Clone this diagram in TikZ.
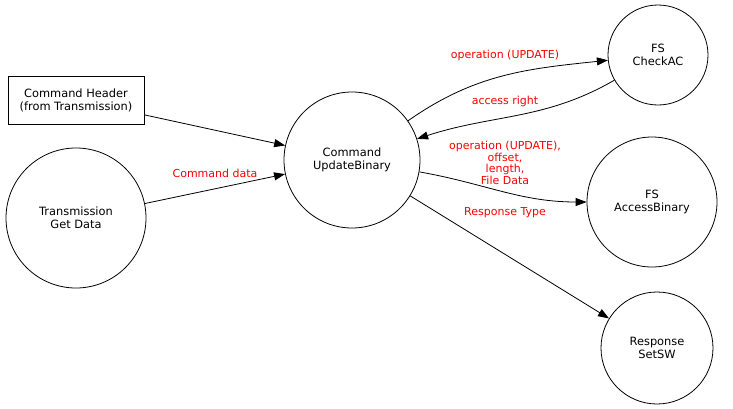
\documentclass[tikz,border=0pt]{standalone}
\usepackage{fontspec}
\setmainfont{DejaVu Sans}
\usetikzlibrary{arrows.meta}
\begin{document}
\begin{tikzpicture}[x=1pt,y=-1pt,
  font=\fontsize{11.4}{13}\selectfont,
  proc/.style={draw,circle,line width=0.8pt,inner sep=0pt,align=center},
  ext/.style={draw,rectangle,line width=0.8pt,inner sep=0pt,align=center,minimum width=136pt,minimum height=48pt},
  flow/.style={draw,line width=0.8pt,-{Triangle[length=11pt,width=8pt]}},
  lbl/.style={text=red,align=center,font=\fontsize{11}{11.7}\selectfont}]
\useasboundingbox (0,0) rectangle (733,408);
\node[ext] (hdr) at (76,100) {Command Header\\(from Transmission)};
\node[proc,minimum size=140pt] (tgd) at (76,218) {Transmission\\Get Data};
\node[proc,minimum size=136pt] (cmd) at (352,160) {Command\\UpdateBinary};
\node[proc,minimum size=100pt] (chk) at (658,55) {FS\\CheckAC};
\node[proc,minimum size=130pt] (acc) at (652,202) {FS\\AccessBinary};
\node[proc,minimum size=112pt] (ssw) at (657,348) {Response\\SetSW};
\draw[flow] (hdr) -- (cmd);
\draw[flow] (tgd) -- (cmd);
\draw[flow] (cmd) to[out=35,in=186] (chk);
\draw[flow] (chk) to[out=210,in=18] (cmd);
\draw[flow] (cmd) to[out=-10,in=180] (acc);
\draw[flow] (cmd) -- (ssw);
\node[lbl] (l1) at (215,173) {Command data};
\node[lbl] (l2) at (505,55) {operation (UPDATE)};
\node[lbl] (l3) at (505,101) {access right};
\node[lbl] (l4) at (505,163) {operation (UPDATE),\\offset,\\length,\\File Data};
\node[lbl] (l5) at (505,213) {Response Type};
\end{tikzpicture}
\end{document}
